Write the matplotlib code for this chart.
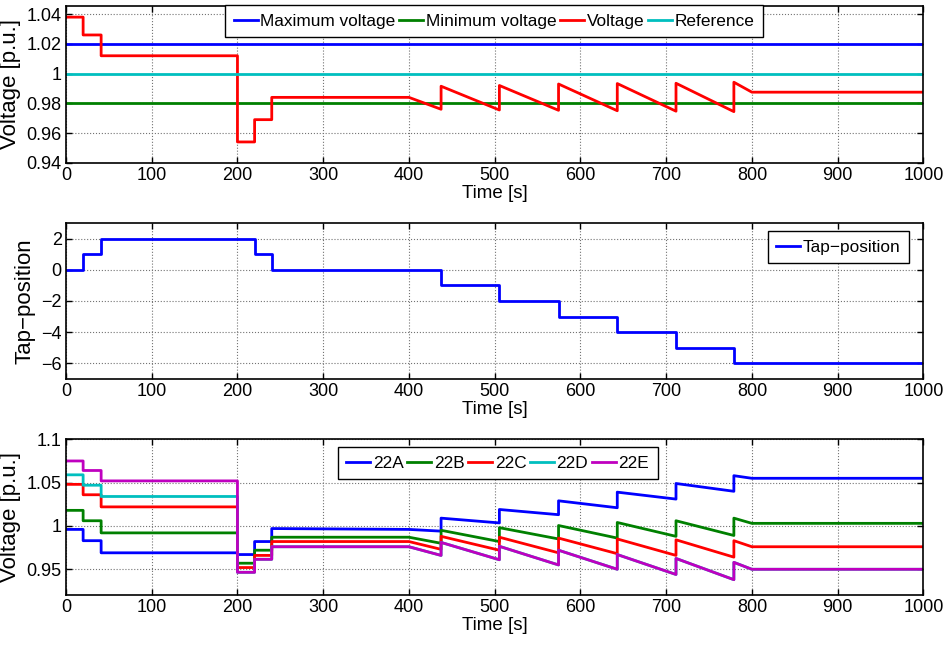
import matplotlib
matplotlib.use("Agg")
import matplotlib.pyplot as plt
from matplotlib.ticker import FormatStrFormatter

plt.rcParams['font.family'] = ['Liberation Sans', 'DejaVu Sans']
plt.rcParams['axes.unicode_minus'] = True

# ---- data ----
# top panel: voltage at the regulated bus
volt_t = [0, 20, 20, 41, 41, 200, 200, 220, 220, 240, 240, 400, 437.5, 437.5,
          505.5, 505.5, 574.5, 574.5, 643, 643, 711.5, 711.5, 779, 779, 800, 1000]
volt_v = [1.038, 1.038, 1.026, 1.026, 1.012, 1.012, 0.954, 0.954, 0.969, 0.969,
          0.984, 0.984, 0.976, 0.9915, 0.9755, 0.992, 0.9753, 0.993, 0.975, 0.9933,
          0.9747, 0.9935, 0.9744, 0.9942, 0.9875, 0.9875]
v_max = 1.02
v_min = 0.98
v_ref = 1.0

# middle panel: tap position (steps)
tap_t = [0, 20, 41, 220, 240, 437.5, 505.5, 574.5, 643, 711.5, 779, 1000]
tap_v = [0, 1, 2, 1, 0, -1, -2, -3, -4, -5, -6, -6]

# bottom panel: node voltages
bus_t = [0, 20, 20, 41, 41, 200, 200, 220, 220, 240, 240, 400, 437.5, 437.5,
         505.5, 505.5, 574.5, 574.5, 643, 643, 711.5, 711.5, 779, 779, 800, 1000]
v22A = [0.996, 0.996, 0.983, 0.983, 0.969, 0.969, 0.967, 0.967, 0.982, 0.982,
        0.997, 0.996, 0.994, 1.009, 1.0035, 1.019, 1.013, 1.029, 1.021, 1.039,
        1.031, 1.049, 1.040, 1.058, 1.055, 1.055]
v22B = [1.018, 1.018, 1.006, 1.006, 0.992, 0.992, 0.957, 0.957, 0.972, 0.972,
        0.987, 0.987, 0.980, 0.995, 0.982, 0.998, 0.985, 1.0005, 0.986, 1.004,
        0.988, 1.006, 0.989, 1.009, 1.003, 1.003]
v22C = [1.048, 1.048, 1.036, 1.036, 1.022, 1.022, 0.952, 0.952, 0.966, 0.966,
        0.982, 0.982, 0.973, 0.988, 0.972, 0.987, 0.969, 0.986, 0.968, 0.985,
        0.966, 0.984, 0.964, 0.983, 0.976, 0.976]
v22D = [1.059, 1.059, 1.047, 1.047, 1.034, 1.034, 0.9465, 0.9465, 0.9615, 0.9615,
        0.976, 0.976, 0.966, 0.981, 0.961, 0.9765, 0.955, 0.972, 0.950, 0.967,
        0.944, 0.9625, 0.938, 0.958, 0.950, 0.950]
v22E = [1.075, 1.075, 1.064, 1.064, 1.052, 1.052, 0.9465, 0.9465, 0.9615, 0.9615,
        0.976, 0.976, 0.966, 0.981, 0.961, 0.9765, 0.955, 0.972, 0.950, 0.967,
        0.944, 0.9625, 0.938, 0.958, 0.950, 0.950]

blue = (0, 0, 1)
green = (0, 0.5, 0)
red = (1, 0, 0)
cyan = (0, 0.75, 0.75)
magenta = (0.75, 0, 0.75)
lw = 2.0
tick_fs = 13
label_fs = 13.5
ylabel_fs = 16
leg_fs = 12.4

fig = plt.figure(figsize=(9.48, 6.51), dpi=100)
ax1 = fig.add_axes([0.0696, 0.750, 0.9044, 0.2408])
ax2 = fig.add_axes([0.0696, 0.4183, 0.9044, 0.2387])
ax3 = fig.add_axes([0.0696, 0.0856, 0.9044, 0.2396])


def style(ax):
    ax.set_xlim(0, 1000)
    ax.set_xticks(range(0, 1001, 100))
    ax.grid(True, linestyle=':', color='0.45', linewidth=0.8)
    ax.tick_params(direction='in', top=True, right=True, length=4.5, width=1,
                   labelsize=tick_fs, pad=3)
    for s in ax.spines.values():
        s.set_linewidth(1.2)
    ax.set_xlabel('Time [s]', fontsize=label_fs, labelpad=0.5)


def legend(ax, **kw):
    leg = ax.legend(fontsize=leg_fs, fancybox=False, framealpha=1, edgecolor='black',
                    handlelength=1.4, handletextpad=0.15, columnspacing=0.2,
                    borderpad=0.5, borderaxespad=0, **kw)
    leg.get_frame().set_linewidth(1.0)
    return leg


# top
ax1.plot([0, 1000], [v_max, v_max], color=blue, lw=lw, label='Maximum voltage')
ax1.plot([0, 1000], [v_min, v_min], color=green, lw=lw, label='Minimum voltage')
ax1.plot(volt_t, volt_v, color=red, lw=lw, label='Voltage')
ax1.plot([0, 1000], [v_ref, v_ref], color=cyan, lw=lw, label='Reference')
style(ax1)
ax1.set_ylim(0.94, 1.0455)
ax1.set_yticks([0.94, 0.96, 0.98, 1.0, 1.02, 1.04])
ax1.yaxis.set_major_formatter(FormatStrFormatter('%g'))
ax1.set_ylabel('Voltage [p.u.]', fontsize=ylabel_fs)
legend(ax1, loc='upper left', bbox_to_anchor=(0.1855, 1.006), ncol=4)

# middle
ax2.plot(tap_t, tap_v, color=blue, lw=lw, drawstyle='steps-post', label='Tap\u2212position')
style(ax2)
ax2.set_ylim(-7, 3)
ax2.set_yticks([-6, -4, -2, 0, 2])
ax2.set_ylabel('Tap\u2212position', fontsize=ylabel_fs)
legend(ax2, loc='upper right', bbox_to_anchor=(0.9837, 0.95))

# bottom
ax3.plot(bus_t, v22A, color=blue, lw=lw, label='22A')
ax3.plot(bus_t, v22B, color=green, lw=lw, label='22B')
ax3.plot(bus_t, v22C, color=red, lw=lw, label='22C')
ax3.plot(bus_t, v22D, color=cyan, lw=lw, label='22D')
ax3.plot(bus_t, v22E, color=magenta, lw=lw, label='22E')
style(ax3)
ax3.set_ylim(0.92, 1.1)
ax3.set_yticks([0.95, 1.0, 1.05, 1.1])
ax3.yaxis.set_major_formatter(FormatStrFormatter('%g'))
ax3.set_ylabel('Voltage [p.u.]', fontsize=ylabel_fs)
legend(ax3, loc='upper left', bbox_to_anchor=(0.317, 0.951), ncol=5)

fig.savefig('out.png', dpi=100)
